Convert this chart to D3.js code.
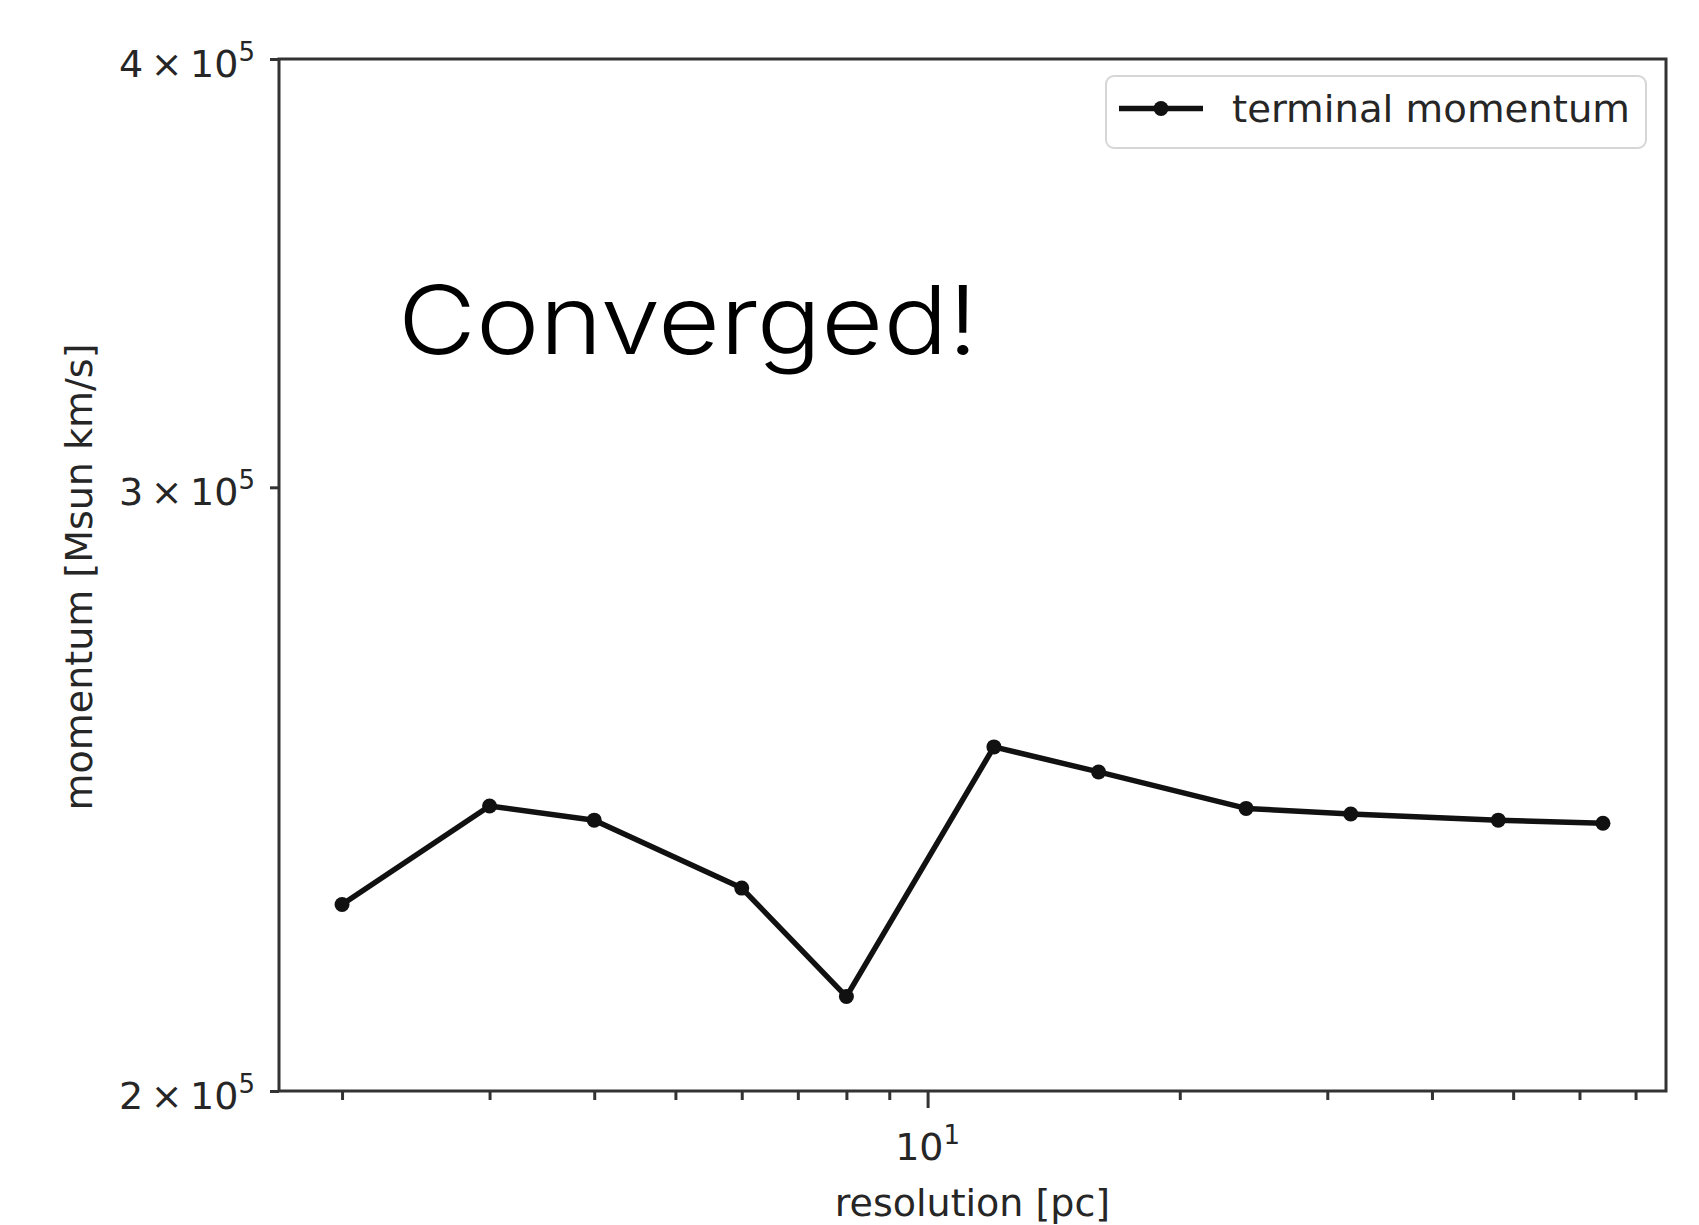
<!DOCTYPE html>
<html>
<head>
<meta charset="utf-8">
<script src="https://cdn.jsdelivr.net/npm/d3@7"></script>
<style>
  html, body { margin: 0; padding: 0; background: #fff; }
  svg { display: block; }
</style>
</head>
<body>
<svg id="chart" width="1699" height="1225"></svg>
<script>
// ---- data ----
const resolution = [2, 3, 4, 6, 8, 12, 16, 24, 32, 48, 64];
const momentum = [226700, 242200, 239900, 229200, 213100, 252000, 247800, 241800, 240900, 239900, 239400];
const seriesName = "terminal momentum";
const yTickValues = [200000, 300000, 400000];
const yTickMantissa = ["2", "3", "4"];
const yTickExponent = "5";
const xMajorTicks = [10];
const xMajorLabels = [{base: "10", exp: "1"}];
const xMinorTicks = [2, 3, 4, 5, 6, 7, 8, 9, 20, 30, 40, 50, 60, 70];
const xLabel = "resolution [pc]";
const yLabel = "momentum [Msun km/s]";
const annotation = "Converged!";

// ---- layout ----
const W = 1699, H = 1225;
const plot = {left: 279, right: 1666, top: 59, bottom: 1091};
const font = "'DejaVu Sans', sans-serif";
const fs = 38, supFs = 26;
const textColor = "#262626";
const axisColor = "#333";

const svg = d3.select("#chart");

// x log domain with 5% margins (matplotlib style)
const lx0 = Math.log10(d3.min(resolution)), lx1 = Math.log10(d3.max(resolution));
const pad = (lx1 - lx0) * 0.05;
const x = d3.scaleLog().domain([Math.pow(10, lx0 - pad), Math.pow(10, lx1 + pad)]).range([plot.left, plot.right]);
const y = d3.scaleLog().domain([200000, 400000]).range([plot.bottom, plot.top]);

// ---- axes ticks ----
const gx = svg.append("g").attr("transform", `translate(0,${plot.bottom})`);
gx.call(d3.axisBottom(x).tickValues(xMinorTicks).tickSize(9).tickFormat(""));
const gxMaj = svg.append("g").attr("transform", `translate(0,${plot.bottom})`);
gxMaj.call(d3.axisBottom(x).tickValues(xMajorTicks).tickSize(17).tickFormat(""));
const gy = svg.append("g").attr("transform", `translate(${plot.left},0)`);
gy.call(d3.axisLeft(y).tickValues(yTickValues).tickSize(9).tickFormat(""));
[gx, gxMaj, gy].forEach(g => {
  g.select(".domain").remove();
  g.selectAll(".tick line").attr("stroke", axisColor).attr("stroke-width", 3);
});

// x tick labels
xMajorTicks.forEach((v, i) => {
  const t = svg.append("text")
    .attr("x", x(v)).attr("y", 1160)
    .attr("text-anchor", "middle")
    .attr("font-family", font).attr("font-size", fs).attr("fill", textColor);
  t.append("tspan").text(xMajorLabels[i].base);
  t.append("tspan").attr("dy", -16).attr("font-size", supFs).text(xMajorLabels[i].exp);
});

// y tick labels
yTickValues.forEach((v, i) => {
  const t = svg.append("text")
    .attr("x", 255).attr("y", y(v) + 18)
    .attr("text-anchor", "end")
    .attr("font-family", font).attr("font-size", fs).attr("fill", textColor);
  t.append("tspan").text(yTickMantissa[i] + "\u2009\u00d7\u200910");
  t.append("tspan").attr("dy", -16).attr("font-size", supFs).text(yTickExponent);
});

// axis labels
svg.append("text")
  .attr("x", (plot.left + plot.right) / 2).attr("y", 1216)
  .attr("text-anchor", "middle")
  .attr("font-family", font).attr("font-size", fs).attr("fill", textColor)
  .text(xLabel);
svg.append("text")
  .attr("transform", `translate(92,${(plot.top + plot.bottom) / 2 + 2}) rotate(-90)`)
  .attr("text-anchor", "middle")
  .attr("font-family", font).attr("font-size", fs).attr("fill", textColor)
  .text(yLabel);

// ---- series ----
const pts = resolution.map((r, i) => [r, momentum[i]]);
svg.append("path")
  .datum(pts)
  .attr("fill", "none").attr("stroke", "#111").attr("stroke-width", 5.5)
  .attr("stroke-linejoin", "round")
  .attr("d", d3.line().x(d => x(d[0])).y(d => y(d[1])));
svg.selectAll("circle.pt").data(pts).enter().append("circle")
  .attr("class", "pt")
  .attr("cx", d => x(d[0])).attr("cy", d => y(d[1])).attr("r", 7.5)
  .attr("fill", "#111");

// ---- spines ----
svg.append("rect")
  .attr("x", plot.left).attr("y", plot.top)
  .attr("width", plot.right - plot.left).attr("height", plot.bottom - plot.top)
  .attr("fill", "none").attr("stroke", axisColor).attr("stroke-width", 3);

// ---- annotation ----
svg.append("text")
  .attr("x", 398).attr("y", 354)
  .attr("font-family", "Inter, 'Noto Sans', sans-serif")
  .attr("font-weight", 300)
  .attr("font-size", 95)
  .attr("fill", "#000")
  .attr("textLength", 580).attr("lengthAdjust", "spacingAndGlyphs")
  .text(annotation);

// ---- legend ----
const lg = svg.append("g");
lg.append("rect")
  .attr("x", 1106).attr("y", 76).attr("width", 540).attr("height", 72).attr("rx", 8)
  .attr("fill", "#fff").attr("fill-opacity", 0.8)
  .attr("stroke", "#d6d6d6").attr("stroke-width", 2);
lg.append("line")
  .attr("x1", 1119).attr("x2", 1203).attr("y1", 108.5).attr("y2", 108.5)
  .attr("stroke", "#111").attr("stroke-width", 5.5);
lg.append("circle").attr("cx", 1161).attr("cy", 108.5).attr("r", 7.5).attr("fill", "#111");
lg.append("text")
  .attr("x", 1232).attr("y", 121.5)
  .attr("font-family", font).attr("font-size", fs).attr("fill", textColor)
  .attr("textLength", 398).attr("lengthAdjust", "spacingAndGlyphs")
  .text(seriesName);
</script>
</body>
</html>
